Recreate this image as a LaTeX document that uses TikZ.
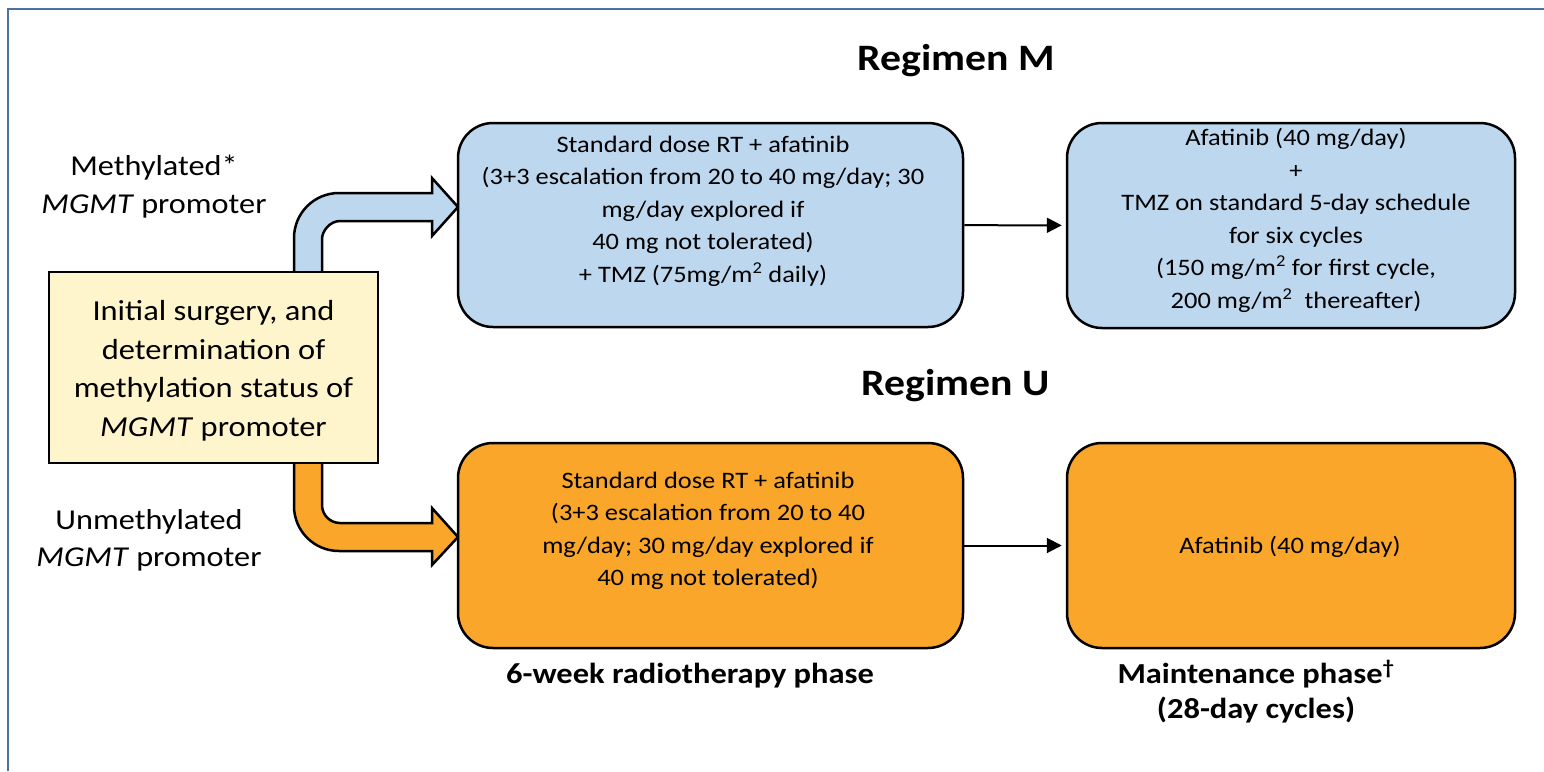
\documentclass[tikz,border=0pt]{standalone}
\usepackage{fontspec}
\setmainfont{Carlito}[FakeStretch=1.12]
\usetikzlibrary{arrows.meta}
\definecolor{frameblue}{HTML}{4A73A5}
\definecolor{boxblue}{HTML}{BDD7EE}
\definecolor{boxorange}{HTML}{F9A62A}
\definecolor{boxyellow}{HTML}{FFF5CC}
\tikzset{
  rbox/.style={draw=black, line width=2.5pt, rounded corners=35pt, inner sep=0pt},
  txt/.style={align=center, inner sep=0pt, font=\fontsize{23.6}{32.5}\selectfont},
  conn/.style={draw=black, line width=2pt, -{Triangle[length=15pt,width=15pt]}, shorten >=4pt},
  blockarrow/.style={draw=black, line width=2.5pt, line join=miter},
  head/.style={font=\fontsize{37.3}{44}\selectfont\bfseries, inner sep=0pt},
  side/.style={align=center, inner sep=0pt, font=\fontsize{28.8}{37.5}\selectfont},
  phase/.style={align=center, inner sep=0pt, font=\fontsize{29}{35}\selectfont\bfseries}
}
\begin{document}
\begin{tikzpicture}[x=1pt,y=-1pt]
\useasboundingbox (0,0) rectangle (1544,771);
% frame
\draw[frameblue, line width=2pt] (8,771) -- (8,9) -- (1544,9);
% block arrows
\draw[blockarrow, fill=boxblue] (294,272) -- (294,238) .. controls (294,213.1) and (314.1,193) .. (339,193)
  -- (432,193) -- (432,178) -- (458,207) -- (432,236) -- (432,221) -- (340,221)
  .. controls (330.06,221) and (322,230.94) .. (322,239) -- (322,272);
\draw[blockarrow, fill=boxorange] (294,463) -- (294,506) .. controls (294,530.9) and (314.1,551) .. (339,551)
  -- (432,551) -- (432,565) -- (458,537) -- (432,508) -- (432,523) -- (340,523)
  .. controls (330.06,523) and (322,514.94) .. (322,505) -- (322,463);
% initial box
\node[draw=black, line width=2.5pt, fill=boxyellow, minimum width=329pt, minimum height=191pt,
  inner sep=0pt] (init) at (213.5,367.5) {};
\node[align=center, inner sep=0pt, font=\fontsize{29}{38.5}\selectfont] (initt) at (213.5,371)
  {Initial surgery, and\\determination of\\methylation status of\\\textit{MGMT} promoter};
% boxes
\node[rbox, fill=boxblue, minimum width=505pt, minimum height=204pt] (m1) at (710.5,225) {};
\node[rbox, fill=boxblue, minimum width=448pt, minimum height=205pt] (m2) at (1291,225.5) {};
\node[rbox, fill=boxorange, minimum width=505pt, minimum height=205pt] (u1) at (710.5,545.5) {};
\node[rbox, fill=boxorange, minimum width=448pt, minimum height=205pt] (u2) at (1291,545.5) {};
% box texts
\node[txt] (m1t) at (703,211) {Standard dose RT + afatinib\\(3+3 escalation from 20 to 40 mg/day; 30\\mg/day explored if\\40 mg not tolerated)\\+ TMZ (75mg/m\textsuperscript{2} daily)};
\node[txt] (m2t) at (1296,220.5) {Afatinib (40 mg/day)\\+\\TMZ on standard 5-day schedule\\for six cycles\\(150 mg/m\textsuperscript{2} for first cycle,\\200 mg/m\textsuperscript{2}\ \ thereafter)};
\node[txt] (u1t) at (708,531) {Standard dose RT + afatinib\\(3+3 escalation from 20 to 40\\mg/day; 30 mg/day explored if\\40 mg not tolerated)};
\node[txt] (u2t) at (1290,547) {Afatinib (40 mg/day)};
% connectors
\draw[conn] (m1) -- (m2);
\draw[conn] (u1) -- (u2);
% headings
\node[head, anchor=base] (hm) at (956,70) {Regimen M};
\node[head, anchor=base] (hu) at (956,395) {Regimen U};
% side labels
\node[side] (meth) at (154,186.5) {Methylated*\\\textit{MGMT} promoter};
\node[side] (unmeth) at (149,540.5) {Unmethylated\\\textit{MGMT} promoter};
% phase labels
\node[phase, anchor=base] (rtphase) at (690,683) {6-week radiotherapy phase};
\node[phase] (mphase) at (1256,692) {Maintenance phase\textsuperscript{\textdagger}\\(28-day cycles)};
\end{tikzpicture}
\end{document}
